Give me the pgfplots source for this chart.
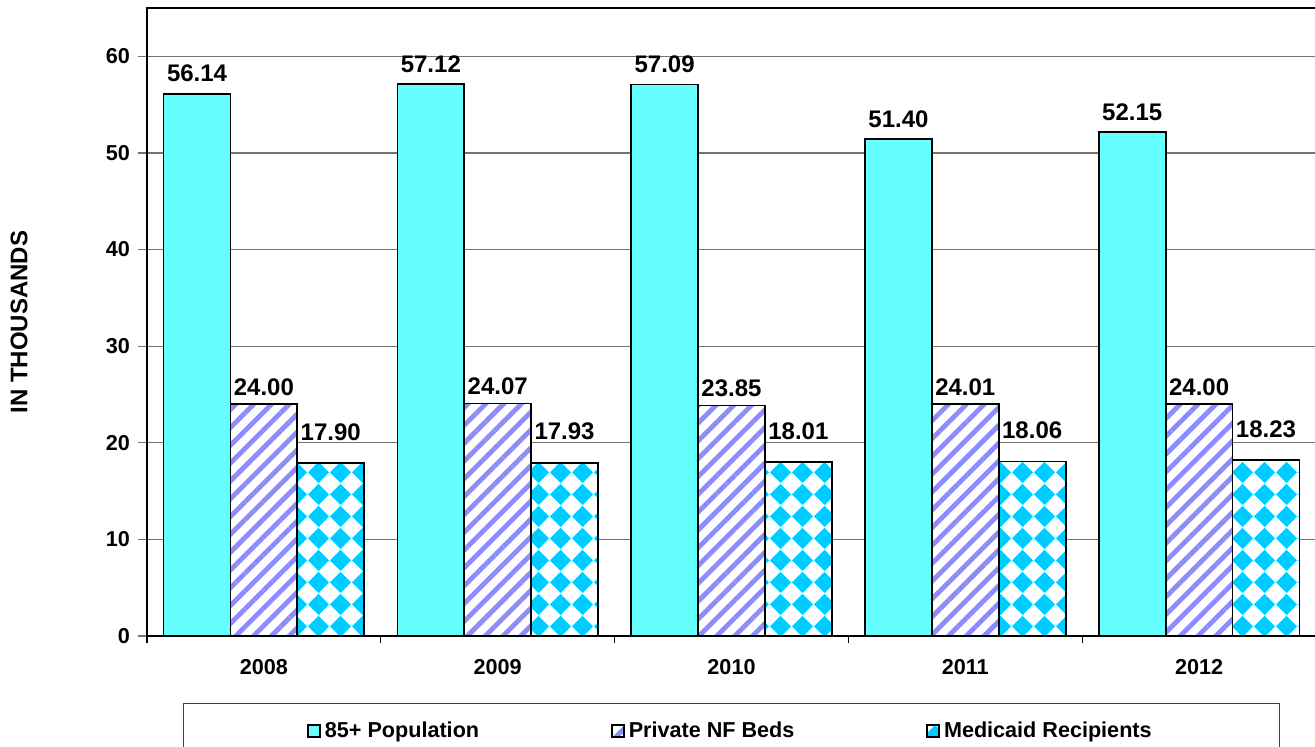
\documentclass[border=0pt]{standalone}
\usepackage{fontspec}
\setmainfont{Liberation Sans}
\usepackage{pgfplots}
\pgfplotsset{compat=1.18}
\usetikzlibrary{patterns,patterns.meta}
\definecolor{popcol}{RGB}{102,255,255}
\definecolor{bedcol}{RGB}{140,140,255}
\definecolor{medcol}{RGB}{0,204,255}
\pgfdeclarepattern{
  name=mydiamonds, type=uncolored,
  bottom left={\pgfpoint{0pt}{0pt}},
  top right={\pgfpoint{11pt}{11pt}},
  tile size={\pgfpoint{11pt}{11pt}},
  code={
    \pgfpathmoveto{\pgfpoint{5.5pt}{0pt}}
    \pgfpathlineto{\pgfpoint{11pt}{5.5pt}}
    \pgfpathlineto{\pgfpoint{5.5pt}{11pt}}
    \pgfpathlineto{\pgfpoint{0pt}{5.5pt}}
    \pgfpathclose
    \pgfusepath{fill}
  }
}
\pgfplotstableread{
x pop beds med
0 56.14 24.00 17.90
1 57.12 24.07 17.93
2 57.09 23.85 18.01
3 51.40 24.01 18.06
4 52.15 24.00 18.23
}\datatable
\begin{document}
\begin{tikzpicture}
\begin{axis}[
  scale only axis,
  width=584.5pt, height=314pt,
  ybar=0pt, bar width=0.286,
  xmin=-0.5, xmax=4.5,
  ymin=0, ymax=65,
  ytick={0,10,...,60},
  xtick={0,1,2,3,4},
  xticklabels={2008,2009,2010,2011,2012},
  minor xtick={-0.5,0.5,1.5,2.5,3.5,4.5},
  xtick pos=bottom, ytick pos=left,
  /pgf/number format/assume math mode=true,
  tick align=outside,
  major x tick style={draw=none},
  minor x tick style={black, line width=0.6pt},
  minor tick length=3.5pt,
  major y tick style={black!55, line width=0.6pt},
  major tick length=4.5pt,
  ymajorgrids,
  grid style={black!55, line width=0.6pt},
  axis line style={black, line width=0.6pt},
  ticklabel style={font=\bfseries\fontsize{10.8}{12}\selectfont},
  yticklabel style={xshift=-0.5pt},
  xticklabel style={yshift=-3.5pt},
  ylabel={IN THOUSANDS},
  ylabel style={at={(axis description cs:-0.1095,0.5)}, anchor=center, font=\bfseries\fontsize{12}{13}\selectfont},
  nodes near coords,
  nodes near coords style={font=\bfseries\fontsize{12}{14}\selectfont, /pgf/number format/.cd, fixed, fixed zerofill, precision=2, assume math mode=true, /tikz/.cd},
  legend columns=3,
  legend style={at={(axis description cs:0.5,-0.1067)}, anchor=north, draw=black!75, line width=0.6pt,
    font=\bfseries\fontsize{10.8}{12}\selectfont, inner xsep=62pt, inner ysep=7pt,
    /tikz/every even column/.append style={column sep=64pt}},
  legend image code/.code={\draw[#1, line width=0.8pt] (0pt,-3pt) rectangle (6pt,3pt);},
]
\addplot[draw=black, line width=0.9pt, fill=popcol,
  nodes near coords style={/tikz/yshift=2pt}] table[x=x,y=pop]{\datatable};
\addlegendentry{85+ Population}
\addplot[draw=black, line width=0.9pt, fill=white, postaction={pattern={Lines[angle=45,distance=6.3pt,line width=2.4pt]}, pattern color=bedcol},
  nodes near coords style={/tikz/yshift=0.5pt}] table[x=x,y=beds]{\datatable};
\addlegendentry{Private NF Beds}
\addplot[draw=black, line width=0.9pt, fill=white, postaction={pattern=mydiamonds, pattern color=medcol},
  nodes near coords style={/tikz/yshift=7.5pt}] table[x=x,y=med]{\datatable};
\addlegendentry{Medicaid Recipients}
\coordinate (bl) at (rel axis cs:0,0);
\coordinate (tr) at (rel axis cs:1,1);
\end{axis}
\pgfresetboundingbox
\path[use as bounding box] ([xshift=-73.5pt,yshift=-55.5pt]bl) rectangle ([xshift=-0.5pt,yshift=4pt]tr);
\end{tikzpicture}
\end{document}
